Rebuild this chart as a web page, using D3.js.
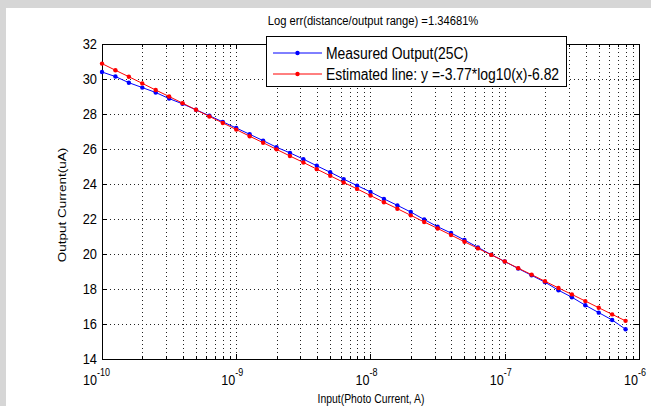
<!DOCTYPE html>
<html>
<head>
<meta charset="utf-8">
<script src="https://cdn.jsdelivr.net/npm/d3@7"></script>
<style>
  body { margin: 0; background: #fff; }
  text { font-family: "Liberation Sans", Arial, sans-serif; fill: #000; }
</style>
</head>
<body>
<div id="chart"></div>
<script>
// input current (A), 0.1 decade steps from 1e-10
const inputExp = [-10.0, -9.9, -9.8, -9.7, -9.6, -9.5, -9.4, -9.3, -9.2, -9.1,
  -9.0, -8.9, -8.8, -8.7, -8.6, -8.5, -8.4, -8.3, -8.2, -8.1,
  -8.0, -7.9, -7.8, -7.7, -7.6, -7.5, -7.4, -7.3, -7.2, -7.1,
  -7.0, -6.9, -6.8, -6.7, -6.6, -6.5, -6.4, -6.3, -6.2, -6.1];

// measured output (uA)
const measured = [30.40, 30.14, 29.79, 29.51, 29.23, 28.88, 28.58, 28.24, 27.90, 27.55,
  27.20, 26.84, 26.48, 26.10, 25.78, 25.42, 25.04, 24.67, 24.28, 23.91,
  23.55, 23.15, 22.78, 22.40, 21.97, 21.56, 21.20, 20.80, 20.38, 19.96,
  19.57, 19.17, 18.78, 18.39, 17.93, 17.53, 17.07, 16.65, 16.23, 15.70];

// estimated line values (uA)
const estimated = [30.88, 30.50, 30.13, 29.75, 29.37, 29.00, 28.62, 28.24, 27.86, 27.49,
  27.11, 26.73, 26.36, 25.98, 25.60, 25.23, 24.85, 24.47, 24.09, 23.72,
  23.34, 22.96, 22.59, 22.21, 21.83, 21.46, 21.08, 20.70, 20.32, 19.95,
  19.57, 19.19, 18.82, 18.44, 18.06, 17.69, 17.31, 16.93, 16.55, 16.18];

const xMajor = [-10, -9, -8, -7, -6];
const yTicks = [14, 16, 18, 20, 22, 24, 26, 28, 30, 32];

const seriesNames = ["Measured Output(25C)", "Estimated line: y =-3.77*log10(x)-6.82"];
const seriesColors = ["#0000ff", "#ff0000"];
const titleText = "Log err(distance/output range) =1.34681%";

const W = 651, H = 406;
const pL = 102, pR = 639, pT = 44, pB = 359;
const FS = 13, SX = 0.86;  // narrow matlab-ish font

const svg = d3.select("#chart").append("svg")
  .attr("width", W).attr("height", H);

// put text squeezed horizontally (screen x), anchored at (tx, ty)
const label = (parent, tx, ty, str, opts = {}) => {
  const sx = opts.sx || SX;
  const g = parent.append("g")
    .attr("transform", `translate(${tx},${ty}) scale(${sx},1)` + (opts.rot ? ` rotate(${opts.rot})` : ""));
  return g.append("text")
    .attr("text-anchor", opts.anchor || "start")
    .attr("font-size", opts.size || FS)
    .text(str);
};

// screenshot frame
svg.append("rect").attr("width", W).attr("height", H).attr("fill", "#d6d6d6");
svg.append("rect").attr("x", 6).attr("y", 8).attr("width", W - 6).attr("height", H - 8).attr("fill", "#fff");

const x = d3.scaleLog().domain([1e-10, 1e-6]).range([pL, pR]);
const y = d3.scaleLinear().domain([14, 32]).range([pB, pT]);

// minor ticks for log axis
let xMinor = [];
for (let d = -10; d < -6; d++) {
  for (let k = 2; k <= 9; k++) xMinor.push(k * Math.pow(10, d));
}
const xMajorVals = xMajor.map(e => Math.pow(10, e));

// grid
const grid = svg.append("g").attr("stroke", "#222").attr("stroke-width", 1)
  .attr("stroke-dasharray", "1,3").attr("shape-rendering", "crispEdges");
xMinor.concat(xMajorVals).forEach(v => {
  const px = Math.round(x(v)) + 0.5;
  grid.append("line").attr("x1", px).attr("x2", px).attr("y1", pT).attr("y2", pB);
});
yTicks.forEach(v => {
  const py = Math.round(y(v)) + 0.5;
  grid.append("line").attr("x1", pL).attr("x2", pR).attr("y1", py).attr("y2", py);
});

// ticks (inward, both sides)
const ticks = svg.append("g").attr("stroke", "#000").attr("shape-rendering", "crispEdges");
xMajorVals.forEach(v => {
  const px = Math.round(x(v)) + 0.5;
  ticks.append("line").attr("x1", px).attr("x2", px).attr("y1", pB).attr("y2", pB - 5);
  ticks.append("line").attr("x1", px).attr("x2", px).attr("y1", pT).attr("y2", pT + 5);
});
xMinor.forEach(v => {
  const px = Math.round(x(v)) + 0.5;
  ticks.append("line").attr("x1", px).attr("x2", px).attr("y1", pB).attr("y2", pB - 3);
  ticks.append("line").attr("x1", px).attr("x2", px).attr("y1", pT).attr("y2", pT + 3);
});
yTicks.forEach(v => {
  const py = Math.round(y(v)) + 0.5;
  ticks.append("line").attr("x1", pL).attr("x2", pL + 5).attr("y1", py).attr("y2", py);
  ticks.append("line").attr("x1", pR).attr("x2", pR - 5).attr("y1", py).attr("y2", py);
});

// axes box
svg.append("rect").attr("x", pL + 0.5).attr("y", pT + 0.5)
  .attr("width", pR - pL).attr("height", pB - pT)
  .attr("fill", "none").attr("stroke", "#000").attr("shape-rendering", "crispEdges");

// y tick labels
yTicks.forEach(v => label(svg, pL - 5, y(v) + 5, v, { anchor: "end", size: 14, sx: 0.92 }));

// x tick labels: 10^e
xMajor.forEach(e => {
  const px = x(Math.pow(10, e));
  const off = e === -10 ? -4 : 0;
  label(svg, px - 1 + off, 385, "10", { anchor: "end", size: 14, sx: 0.9 });
  label(svg, px - 1 + off, 376, "-" + Math.abs(e), { size: 10, sx: 0.9 });
});

// axis labels and title
label(svg, 371, 403, "Input(Photo Current, A)", { anchor: "middle", size: 13, sx: 0.8 });
label(svg, 66, 205, "Output Current(uA)", { anchor: "middle", rot: -90, size: 13.5 });
label(svg, 373, 25, titleText, { anchor: "middle", size: 13.5, sx: 0.83 });

// series
const series = [measured, estimated];
const line = d3.line().x((d, i) => x(Math.pow(10, inputExp[i]))).y(d => y(d));
series.forEach((vals, s) => {
  const g = svg.append("g");
  g.append("path").attr("d", line(vals)).attr("fill", "none")
    .attr("stroke", seriesColors[s]).attr("stroke-width", 1);
  g.selectAll("circle").data(vals).join("circle")
    .attr("cx", (d, i) => x(Math.pow(10, inputExp[i])))
    .attr("cy", d => y(d)).attr("r", 2.2).attr("fill", seriesColors[s]);
});

// legend
const lg = svg.append("g");
lg.append("rect").attr("x", 266.5).attr("y", 36.5).attr("width", 300).attr("height", 50)
  .attr("fill", "#fff").attr("stroke", "#000").attr("shape-rendering", "crispEdges");
seriesNames.forEach((name, s) => {
  const ly = 53 + s * 21;
  lg.append("line").attr("x1", 273).attr("x2", 322).attr("y1", ly).attr("y2", ly)
    .attr("stroke", seriesColors[s]);
  lg.append("circle").attr("cx", 297.5).attr("cy", ly).attr("r", 2.2).attr("fill", seriesColors[s]);
  label(lg, 326, ly + 6, name, { size: 16, sx: 0.87 });
});
</script>
</body>
</html>
